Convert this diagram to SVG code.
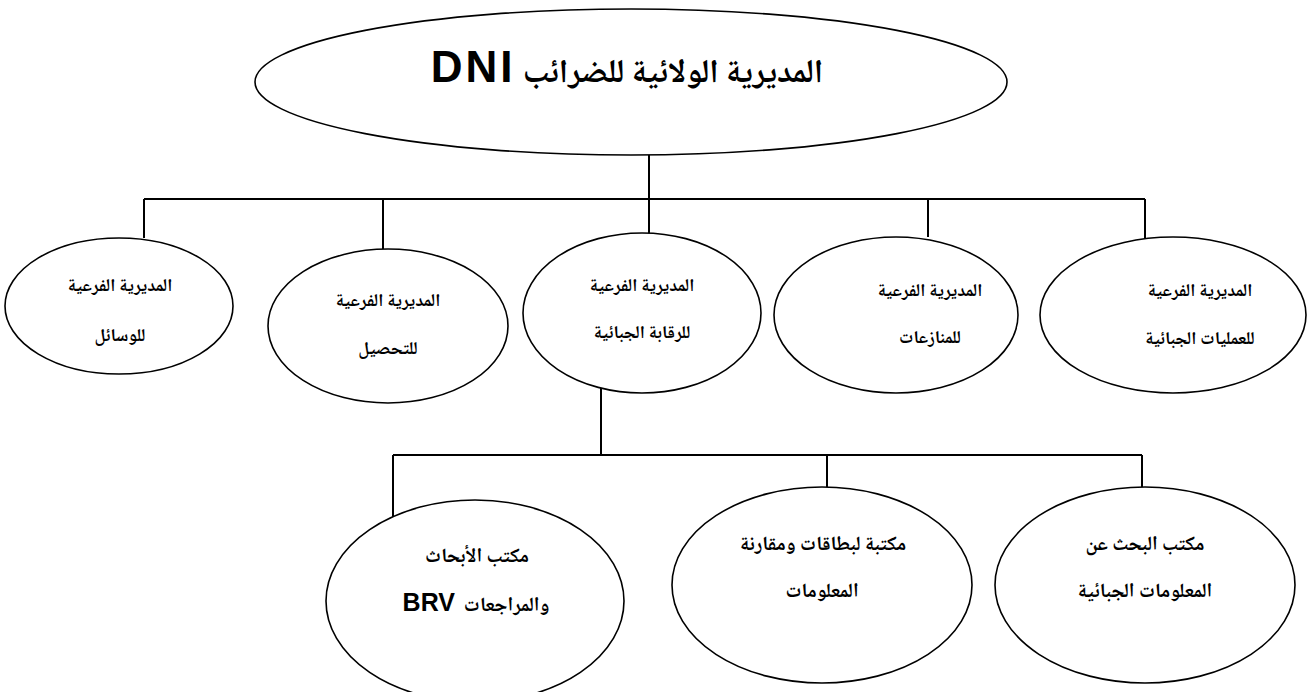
<svg xmlns="http://www.w3.org/2000/svg" width="1307" height="692" viewBox="0 0 1307 692">
  <style>
    .shape { fill: #ffffff; stroke: #000000; stroke-width: 1.6; }
    .link { fill: none; stroke: #000000; stroke-width: 2; }
    .ar { font-family: "Noto Naskh Arabic", "Noto Sans Arabic", "DejaVu Sans", sans-serif; font-weight: bold; font-size: 18px; fill: #000000; text-anchor: middle; }
    .office { font-size: 20px; }
    .title { font-family: "Noto Naskh Arabic", "Noto Sans Arabic", "DejaVu Sans", sans-serif; font-weight: bold; font-size: 33px; fill: #000000; text-anchor: middle; }
    .lat { font-family: "Liberation Sans", Arial, sans-serif; font-weight: bold; }
  </style>
  <rect width="1307" height="692" fill="#ffffff"/>

  <!-- connectors -->
  <g id="connectors">
    <path class="link" d="M649,153 V199 M144,199 H1145 M144,199 V238 M383,199 V249 M649,199 V234 M928,199 V237 M1145,199 V238"/>
    <path class="link" d="M601,384 V455 M393,455 H1142 M393,455 V517 M827,455 V487 M1142,455 V487"/>
  </g>

  <!-- top level -->
  <g id="dni">
    <ellipse class="shape" cx="631" cy="82" rx="376" ry="73"/>
    <text class="title" x="627" y="82" direction="rtl">المديرية الولائية للضرائب <tspan class="lat" font-size="44" letter-spacing="3">DNI</tspan></text>
  </g>

  <!-- sub-directorates -->
  <g id="sd-means">
    <ellipse class="shape" cx="119" cy="306" rx="114" ry="68"/>
    <text class="ar" x="120" y="291">المديرية الفرعية</text>
    <text class="ar" x="120" y="341">للوسائل</text>
  </g>
  <g id="sd-collection">
    <ellipse class="shape" cx="388" cy="326" rx="120" ry="77"/>
    <text class="ar" x="388" y="306">المديرية الفرعية</text>
    <text class="ar" x="388" y="354">للتحصيل</text>
  </g>
  <g id="sd-control">
    <ellipse class="shape" cx="642" cy="313" rx="119" ry="80"/>
    <text class="ar" x="642" y="291">المديرية الفرعية</text>
    <text class="ar" x="642" y="338">للرقابة الجبائية</text>
  </g>
  <g id="sd-disputes">
    <ellipse class="shape" cx="896" cy="315" rx="122" ry="78"/>
    <text class="ar" x="930" y="296">المديرية الفرعية</text>
    <text class="ar" x="930" y="343">للمنازعات</text>
  </g>
  <g id="sd-operations">
    <ellipse class="shape" cx="1173" cy="315" rx="133" ry="78"/>
    <text class="ar" x="1200" y="296">المديرية الفرعية</text>
    <text class="ar" x="1200" y="344">للعمليات الجبائية</text>
  </g>

  <!-- offices under tax control -->
  <g id="brv">
    <ellipse class="shape" cx="475" cy="601" rx="149" ry="101"/>
    <text class="ar office" x="477" y="562">مكتب الأبحاث</text>
    <text class="ar office" x="476" y="611" direction="rtl">والمراجعات&#160; <tspan class="lat" font-size="25">BRV</tspan></text>
  </g>
  <g id="records">
    <ellipse class="shape" cx="822" cy="585" rx="150" ry="98"/>
    <text class="ar office" x="823" y="550">مكتبة لبطاقات ومقارنة</text>
    <text class="ar office" x="822" y="597">المعلومات</text>
  </g>
  <g id="research">
    <ellipse class="shape" cx="1145" cy="585" rx="150" ry="98"/>
    <text class="ar office" x="1145" y="550">مكتب البحث عن</text>
    <text class="ar office" x="1145" y="597">المعلومات الجبائية</text>
  </g>
</svg>
